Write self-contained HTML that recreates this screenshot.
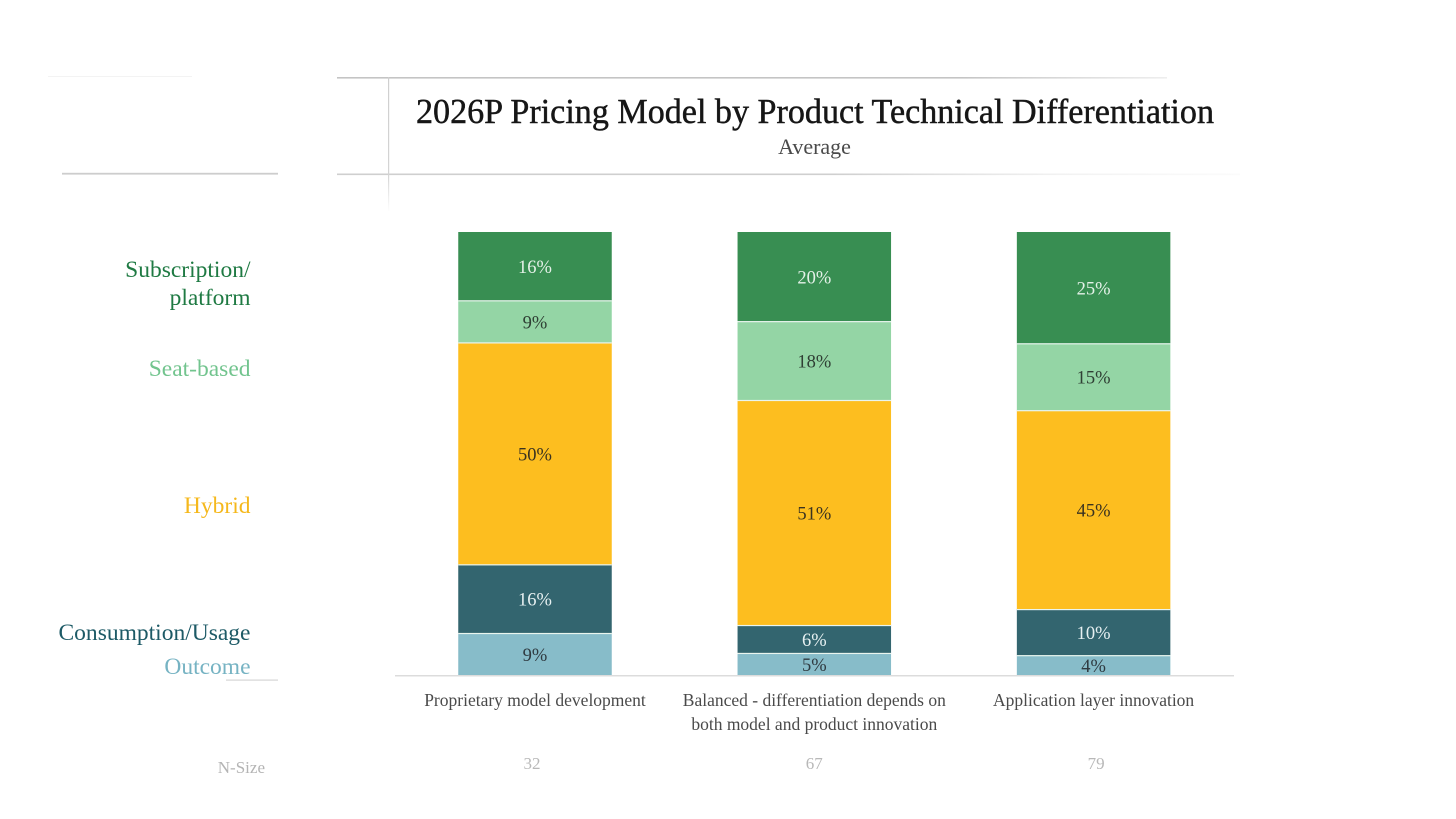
<!DOCTYPE html>
<html lang="en">
<head>
<meta charset="utf-8">
<title>2026P Pricing Model by Product Technical Differentiation</title>
<style>
html,body{margin:0;padding:0;background:#fff;}
body{width:1456px;height:819px;overflow:hidden;}
svg{display:block;font-family:"Liberation Serif",serif;}
</style>
</head>
<body>
<svg id="chart" width="1456" height="819" viewBox="0 0 1456 819" xmlns="http://www.w3.org/2000/svg">
  <defs>
    <linearGradient id="fade-right" x1="0" x2="1" y1="0" y2="0">
      <stop offset="0" stop-color="#c4c4c4"/>
      <stop offset="0.75" stop-color="#c4c4c4"/>
      <stop offset="1" stop-color="#eeeeee"/>
    </linearGradient>
    <linearGradient id="fade-right-2" x1="0" x2="1" y1="0" y2="0">
      <stop offset="0" stop-color="#cfcfcf"/>
      <stop offset="0.55" stop-color="#cfcfcf"/>
      <stop offset="0.8" stop-color="#f2f2f2"/>
      <stop offset="1" stop-color="#fbfbfb"/>
    </linearGradient>
    <linearGradient id="fade-down" x1="0" x2="0" y1="0" y2="1">
      <stop offset="0" stop-color="#cfcfcf"/>
      <stop offset="0.72" stop-color="#d4d4d4"/>
      <stop offset="1" stop-color="#ffffff"/>
    </linearGradient>
  </defs>
  <rect x="0" y="0" width="1456" height="819" fill="#ffffff"/>
  <rect x="48" y="76" width="144" height="1" fill="#f3f3f3"/>
  <rect x="337" y="77" width="830" height="1.6" fill="url(#fade-right)"/>
  <rect x="337" y="173.5" width="903" height="1.6" fill="url(#fade-right-2)"/>
  <rect x="62" y="172.8" width="216" height="1.8" fill="#cdcdcd"/>
  <rect x="388" y="77" width="1.2" height="135" fill="url(#fade-down)"/>
  <rect x="226" y="679.5" width="52" height="1.2" fill="#d6d6d6"/>

  <text x="416" y="123" font-size="35" fill="#161616" stroke="#161616" stroke-width="0.45" textLength="798" lengthAdjust="spacingAndGlyphs">2026P Pricing Model by Product Technical Differentiation</text>
  <text x="814.5" y="154" font-size="22" fill="#4a4a4a" text-anchor="middle">Average</text>

  <g id="bars"></g>
  <rect x="395" y="675" width="839" height="1.5" fill="#dcdcdc"/>
  <g id="xlabels"></g>

  <text x="250.5" y="277" font-size="23.5" fill="#1f7a43" text-anchor="end">Subscription/</text>
  <text x="250.5" y="305" font-size="23.5" fill="#1f7a43" text-anchor="end">platform</text>
  <text x="250.5" y="376" font-size="23.5" fill="#72c48e" text-anchor="end">Seat-based</text>
  <text x="250.5" y="513" font-size="23.5" fill="#f5b81c" text-anchor="end">Hybrid</text>
  <text x="250.5" y="640" font-size="23" fill="#1d5a66" text-anchor="end" textLength="192" lengthAdjust="spacingAndGlyphs">Consumption/Usage</text>
  <text x="250.5" y="674" font-size="23.5" fill="#76b3c3" text-anchor="end">Outcome</text>
  <text x="265" y="773" font-size="17" fill="#b4b4b4" text-anchor="end">N-Size</text>
</svg>
<script>
var categories = ['Proprietary model development', 'Balanced - differentiation depends on|both model and product innovation', 'Application layer innovation'];
var nSizes = ['32', '67', '79'];
var seriesNames = ['subscription', 'seat-based', 'hybrid', 'consumption', 'outcome'];
var subscription = [15.4, 20.1, 25.1];
var seatBased = [9.5, 17.8, 15.1];
var hybrid = [50.1, 50.8, 44.9];
var consumption = [15.5, 6.3, 10.4];
var outcome = [9.5, 5.0, 4.5];
var subscriptionLabels = ['16%', '20%', '25%'];
var seatBasedLabels = ['9%', '18%', '15%'];
var hybridLabels = ['50%', '51%', '45%'];
var consumptionLabels = ['16%', '6%', '10%'];
var outcomeLabels = ['9%', '5%', '4%'];

var NS = 'http://www.w3.org/2000/svg';
var stackOrder = [outcome, consumption, hybrid, seatBased, subscription];
var stackLabels = [outcomeLabels, consumptionLabels, hybridLabels, seatBasedLabels, subscriptionLabels];
var stackNames = [seriesNames[4], seriesNames[3], seriesNames[2], seriesNames[1], seriesNames[0]];
var stackColors = ['#87bcc9', '#33656f', '#fdbe1f', '#94d5a5', '#388e52'];
var labelColors = ['#2f3a40', '#e6f0f1', '#3a3320', '#2f3f34', '#e4f1e8'];

function yScale(v) { return 675 - v * 4.43; }
function xCenter(i) { return 535 + i * 279.3; }
var barWidth = 153.5;

var barsGroup = document.getElementById('bars');
var labelsGroup = document.getElementById('xlabels');

function addText(parent, x, y, size, fill, content) {
  var t = document.createElementNS(NS, 'text');
  t.setAttribute('x', x);
  t.setAttribute('y', y);
  t.setAttribute('font-size', size);
  t.setAttribute('fill', fill);
  t.setAttribute('text-anchor', 'middle');
  t.textContent = content;
  parent.appendChild(t);
  return t;
}

categories.forEach(function (cat, i) {
  var cum = 0;
  stackOrder.forEach(function (series, s) {
    var v = series[i];
    var y0 = yScale(cum);
    var y1 = yScale(cum + v);
    var rect = document.createElementNS(NS, 'rect');
    
    
    rect.setAttribute('x', xCenter(i) - barWidth / 2);
    rect.setAttribute('y', y1);
    rect.setAttribute('width', barWidth);
    rect.setAttribute('height', y0 - y1);
    rect.setAttribute('fill', stackColors[s]);
    barsGroup.appendChild(rect);
    if (s < 4) {
      var gap = document.createElementNS(NS, 'rect');
      
      
      gap.setAttribute('x', xCenter(i) - barWidth / 2);
      gap.setAttribute('y', y1 - 1);
      gap.setAttribute('width', barWidth);
      gap.setAttribute('height', 2.2);
      gap.setAttribute('fill', '#e9f5ee');
      barsGroup.appendChild(gap);
    }
    var lbl = addText(barsGroup, xCenter(i), (y0 + y1) / 2 + 7, 18.5, labelColors[s], stackLabels[s][i]);
    
    
    cum += v;
  });

  var lines = cat.split('|');
  lines.forEach(function (line, k) {
    var xl = addText(labelsGroup, xCenter(i), 706 + k * 24, 17.5, '#4a4a4a', line);
    
    
  });

  var ns = addText(labelsGroup, xCenter(i) + (i === 0 ? -3 : i === 1 ? 0 : 2.5), 769, 17, '#b8b8b8', nSizes[i]);
  
  
});
</script>
</body>
</html>
